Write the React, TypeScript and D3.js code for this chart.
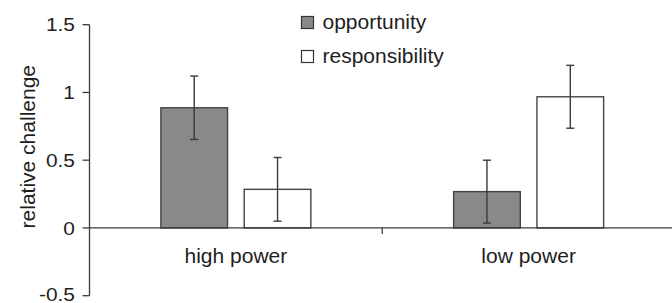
import * as d3 from "d3";

const CATEGORIES = ["high power", "low power"];
const SERIES = ["opportunity", "responsibility"];
const OPPORTUNITY = [0.887, 0.268];
const RESPONSIBILITY = [0.285, 0.968];
const OPPORTUNITY_ERR = [0.234, 0.232];
const RESPONSIBILITY_ERR = [0.235, 0.232];
const Y_TICKS = [-0.5, 0, 0.5, 1, 1.5];

const W = 672;
const H = 303;
const AXIS_X = 89.5;
const FILLS: Record<string, string> = { opportunity: "#89898b", responsibility: "#ffffff" };
const INK = "#3a3a3a";
const FONT = "'Liberation Sans', Arial, sans-serif";

export default function App() {
  const y = d3.scaleLinear().domain([-0.5, 1.5]).range([295.7, 24.7]);
  const x0 = d3.scaleBand<string>().domain(CATEGORIES).range([AXIS_X, 675]);
  const groupW = 150;
  const x1 = d3.scaleBand<string>().domain(SERIES).range([0, groupW]).paddingInner(0.2);
  const offset = (x0.bandwidth() - groupW) / 2;

  const rows = CATEGORIES.flatMap((cat, i) => [
    { cat, key: "opportunity", value: OPPORTUNITY[i], err: OPPORTUNITY_ERR[i] },
    { cat, key: "responsibility", value: RESPONSIBILITY[i], err: RESPONSIBILITY_ERR[i] },
  ]);

  const fmt = (d: number) => (d === 0 ? "0" : String(d));

  return (
    <svg
      width={W}
      height={H}
      style={{ position: "absolute", left: 0, top: 0, background: "#fff" }}
      fontFamily={FONT}
    >
      {/* y axis */}
      <line x1={AXIS_X} x2={AXIS_X} y1={y(1.5)} y2={y(-0.5)} stroke={INK} strokeWidth={1.3} />
      {Y_TICKS.map((t) => (
        <g key={t}>
          <line x1={AXIS_X - 7} x2={AXIS_X} y1={y(t)} y2={y(t)} stroke={INK} strokeWidth={1.3} />
          <text
            x={75}
            y={Math.min(y(t), 294)}
            dy="0.35em"
            textAnchor="end"
            fontSize={19}
            fill="#1e1e1e"
            transform={`translate(75,0) scale(1.1,1) translate(-75,0)`}
          >
            {fmt(t)}
          </text>
        </g>
      ))}
      <text
        transform={`translate(35,${146.7}) rotate(-90) scale(1.05,1)`}
        textAnchor="middle"
        fontSize={20}
        fill="#1e1e1e"
      >
        relative challenge
      </text>

      {/* bars */}
      {rows.map((r) => {
        const bx = x0(r.cat)! + offset + x1(r.key)!;
        const cx = bx + x1.bandwidth() / 2;
        return (
          <g key={r.cat + r.key}>
            <rect
              x={bx}
              y={y(r.value)}
              width={x1.bandwidth()}
              height={y(0) - y(r.value)}
              fill={FILLS[r.key]}
              stroke="#444"
              strokeWidth={1.4}
            />
            <line x1={cx} x2={cx} y1={y(r.value + r.err)} y2={y(r.value - r.err)} stroke={INK} strokeWidth={1.4} />
            <line x1={cx - 4} x2={cx + 4} y1={y(r.value + r.err)} y2={y(r.value + r.err)} stroke={INK} strokeWidth={1.4} />
            <line x1={cx - 4} x2={cx + 4} y1={y(r.value - r.err)} y2={y(r.value - r.err)} stroke={INK} strokeWidth={1.4} />
          </g>
        );
      })}

      {/* zero baseline + category separator */}
      <line x1={AXIS_X} x2={W} y1={y(0)} y2={y(0)} stroke={INK} strokeWidth={1.3} />
      <line x1={x0(CATEGORIES[1])!} x2={x0(CATEGORIES[1])!} y1={y(0)} y2={y(0) + 6} stroke={INK} strokeWidth={1.3} />
      {CATEGORIES.map((c) => (
        <text
          key={c}
          x={x0(c)! + x0.bandwidth() / 2}
          y={262.5}
          textAnchor="middle"
          fontSize={21}
          fill="#1e1e1e"
        >
          {c}
        </text>
      ))}

      {/* legend */}
      {SERIES.map((s, i) => (
        <g key={s} transform={`translate(301.5,${16.5 + i * 34})`}>
          <rect width={12} height={12} fill={FILLS[s]} stroke="#333" strokeWidth={1.2} />
          <text x={20} y={12.5} fontSize={20} fill="#1e1e1e" transform="scale(1.05,1)">
            {s}
          </text>
        </g>
      ))}
    </svg>
  );
}
